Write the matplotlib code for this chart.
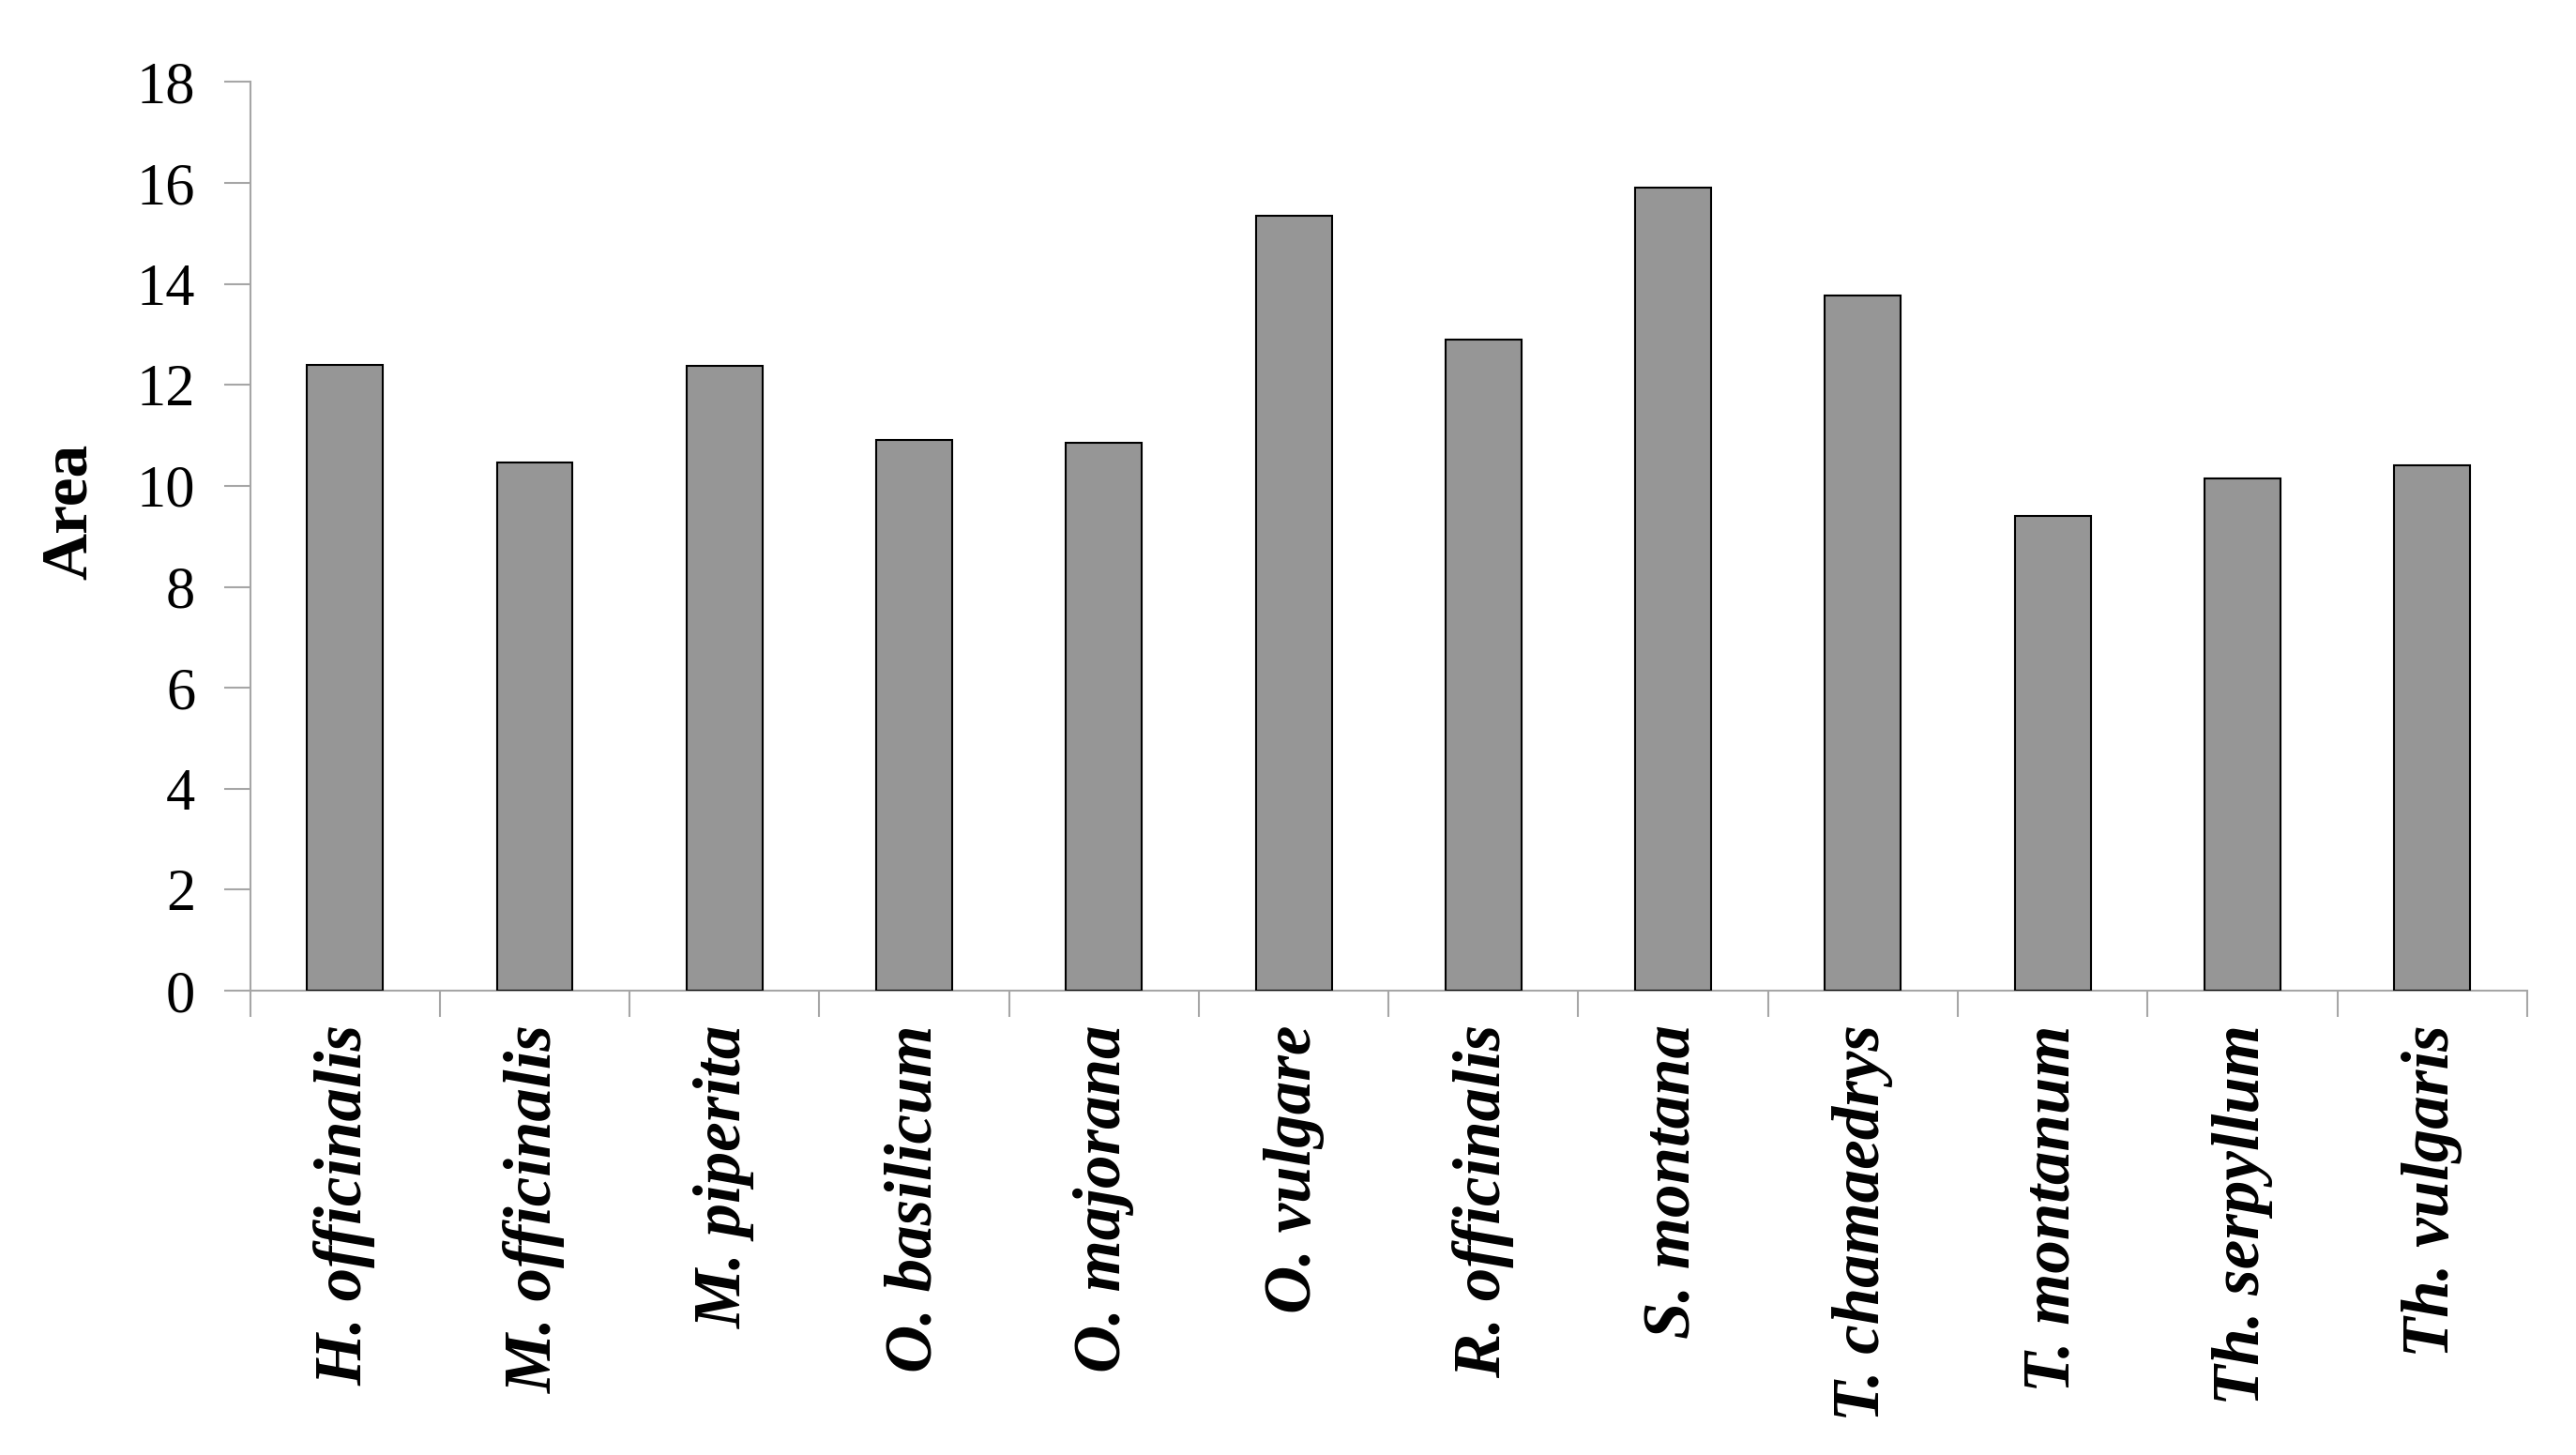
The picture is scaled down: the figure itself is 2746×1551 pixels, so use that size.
import matplotlib
matplotlib.use('Agg')
import matplotlib.pyplot as plt
import numpy as np

species = ['H. officinalis', 'M. officinalis', 'M. piperita', 'O. basilicum',
           'O. majorana', 'O. vulgare', 'R. officinalis', 'S. montana',
           'T. chamaedrys', 'T. montanum', 'Th. serpyllum', 'Th. vulgaris']
area = [12.39, 10.47, 12.37, 10.91, 10.85, 15.35, 12.90, 15.90, 13.78, 9.41, 10.14, 10.40]
yticks = [0, 2, 4, 6, 8, 10, 12, 14, 16, 18]

plt.rcParams['font.family'] = ['Liberation Serif', 'DejaVu Serif']
axis_grey = '#a6a6a6'

fig = plt.figure(figsize=(27.46, 15.51), dpi=100)
ax = fig.add_axes([0.0971, 0.3191, 0.9839 - 0.0971 - 0.0029, 0.9436 - 0.3191])

x = np.arange(len(species))
ax.bar(x, area, width=0.4, color='#969696', edgecolor='black', linewidth=1.5, zorder=3)

ax.set_xlim(-0.5, len(species) - 0.5)
ax.set_ylim(0, 18)
ax.set_yticks(yticks)
ax.set_yticklabels([str(v) for v in yticks], fontsize=45)

# category labels centred under bars, ticks at category boundaries
ax.set_xticks(x)
ax.set_xticklabels(species, rotation=90, fontsize=51, fontweight='bold',
                   fontstyle='italic', va='top', ha='center')
ax.tick_params(axis='x', which='major', length=0, pad=26)
ax.set_xticks(np.arange(-0.5, len(species)), minor=True)
ax.tick_params(axis='x', which='minor', length=20, width=1.5, color=axis_grey,
               direction='out')
ax.tick_params(axis='y', length=20, width=1.5, color=axis_grey, direction='out', pad=22)

for side in ['top', 'right']:
    ax.spines[side].set_visible(False)
for side in ['left', 'bottom']:
    ax.spines[side].set_color(axis_grey)
    ax.spines[side].set_linewidth(1.5)

ax.set_ylabel('Area', fontsize=50, fontweight='bold')
ax.yaxis.set_label_coords(-0.066, 0.527)

fig.savefig('out.png', dpi=100, facecolor='white')
